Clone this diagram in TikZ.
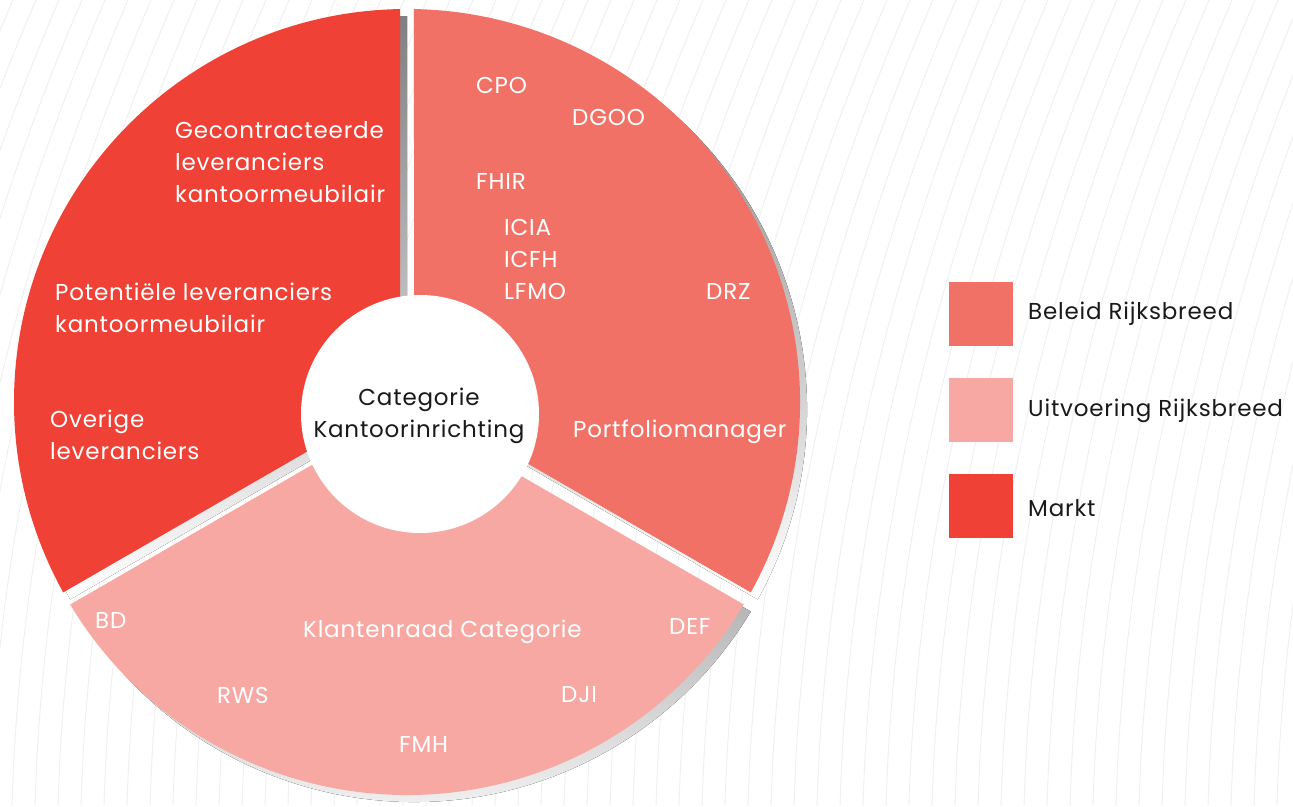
\documentclass[tikz,border=0pt]{standalone}
\usepackage{fontspec}
\setmainfont{Poppins}[LetterSpace=3.5]
\usetikzlibrary{calc}
\definecolor{markt}{HTML}{EF4136}
\definecolor{beleid}{HTML}{F27167}
\definecolor{uitv}{HTML}{F7A8A2}
\definecolor{shade}{HTML}{8F9194}
\definecolor{bgline}{HTML}{EFEFEF}
\tikzset{
  lbl/.style={text=white, anchor=west, inner sep=0pt, align=left, font=\fontsize{23}{32}\selectfont},
  legtext/.style={text=black!90, anchor=west, inner sep=0pt, font=\fontsize{23}{32}\selectfont},
  legbox/.style={minimum size=64pt, inner sep=0pt, draw=none}
}
\begin{document}
\begin{tikzpicture}[x=1pt,y=1pt]
\useasboundingbox (0,0) rectangle (1293,806);
\fill[white] (0,0) rectangle (1293,806);
% background curves
\begin{scope}
\clip (0,0) rectangle (1293,806);
\foreach \i in {0,...,72}{
  \pgfmathsetmacro{\xo}{-10+23*\i}
  \draw[bgline, line width=0.9pt] (\xo,806) .. controls ({\xo-115.3},538) and ({\xo-177},269.3) .. ({\xo-185},0);
}
\end{scope}
\coordinate (C) at (407,404);
\coordinate (S) at (414,397);
% shadows
\fill[shade] ([shift={(150:8.083)}]S) -- ([shift={(91.02:393)}]S) arc[start angle=91.02, end angle=208.98, radius=393] -- cycle;
\fill[shade] ([shift={(270:8.083)}]S) -- ([shift={(211.02:393)}]S) arc[start angle=211.02, end angle=328.98, radius=393] -- cycle;
\fill[shade] ([shift={(30:8.083)}]S) -- ([shift={(-28.98:393)}]S) arc[start angle=-28.98, end angle=88.98, radius=393] -- cycle;
% sectors
\fill[markt] ([shift={(150:8.083)}]C) -- ([shift={(91.02:393)}]C) arc[start angle=91.02, end angle=208.98, radius=393] -- cycle;
\fill[uitv] ([shift={(270:8.083)}]C) -- ([shift={(211.02:393)}]C) arc[start angle=211.02, end angle=328.98, radius=393] -- cycle;
\fill[beleid] ([shift={(30:8.083)}]C) -- ([shift={(-28.98:393)}]C) arc[start angle=-28.98, end angle=88.98, radius=393] -- cycle;
% hole
\node[circle, fill=white, minimum size=238pt, inner sep=0pt] (hole) at (420,392) {};
\node[text=black!90, align=center, inner sep=0pt, font=\fontsize{23}{32}\selectfont] (centre) at (419,390) {Categorie\\Kantoorinrichting};
% labels markt
\node[lbl] (gec) at (175,644) {Gecontracteerde\\leveranciers\\kantoormeubilair};
\node[lbl] (pot) at (55,498.5) {Potentiële leveranciers\\kantoormeubilair};
\node[lbl] (ove) at (50,371.5) {Overige\\leveranciers};
% labels beleid
\node[lbl] (cpo) at (476,721) {CPO};
\node[lbl] (dgoo) at (572,689) {DGOO};
\node[lbl] (fhir) at (476,625) {FHIR};
\node[lbl] (icia) at (504,547) {ICIA\\ICFH\\LFMO};
\node[lbl] (drz) at (706,515) {DRZ};
\node[lbl] (pfm) at (573,374) {Portfoliomanager};
% labels uitvoering
\node[lbl] (bd) at (95,186) {BD};
\node[lbl] (kr) at (303,174) {Klantenraad Categorie};
\node[lbl] (def) at (669,180) {DEF};
\node[lbl] (rws) at (217,111) {RWS};
\node[lbl] (dji) at (561,111) {DJI};
\node[lbl] (fmh) at (399,62) {FMH};
% legend
\node[legbox, fill=beleid] (lb1) at (981,492) {};
\node[legbox, fill=uitv] (lb2) at (981,396) {};
\node[legbox, fill=markt] (lb3) at (981,300) {};
\node[legtext] (lt1) at (1028,492) {Beleid Rijksbreed};
\node[legtext] (lt2) at (1028,395) {Uitvoering Rijksbreed};
\node[legtext] (lt3) at (1028,298) {Markt};
\end{tikzpicture}
\end{document}
